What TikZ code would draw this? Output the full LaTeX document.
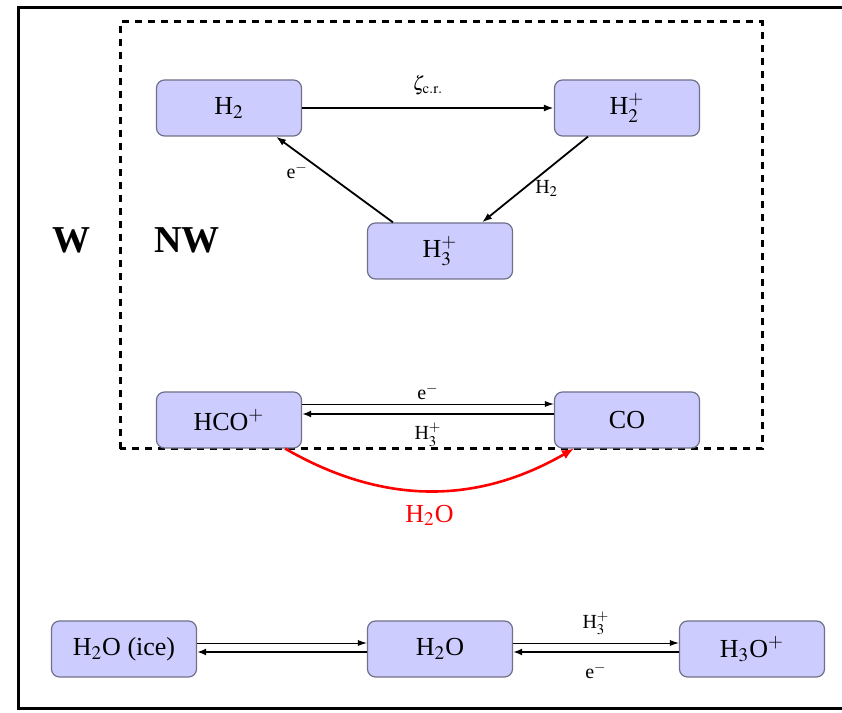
\documentclass[tikz,border=0pt]{standalone}
\usepackage{mathptmx}
\usepackage{fontspec}
\setmainfont{Liberation Serif}
\usetikzlibrary{arrows.meta, positioning}
\definecolor{boxfill}{HTML}{CCCCFF}
\definecolor{boxedge}{HTML}{70708A}
\tikzset{
  species/.style={draw=boxedge, fill=boxfill, rounded corners=4pt, line width=0.6pt,
    minimum width=72.5pt, minimum height=28pt, inner sep=0pt,
    font=\fontsize{13}{15}\selectfont},
  react/.style={-{Latex[length=5pt,width=3.5pt]}, line width=0.9pt},
  fwd/.style={-{Latex[length=4.5pt,width=3pt]}, line width=0.45pt},
  bwd/.style={-{Latex[length=4.5pt,width=3.5pt]}, line width=1.1pt},
  lbl/.style={font=\fontsize{10}{12}\selectfont, inner sep=2pt},
  region/.style={font=\bfseries\fontsize{19}{21}\selectfont},
}

\begin{document}
\begin{tikzpicture}[x=0.5pt, y=0.5pt]
  \useasboundingbox (0,0) rectangle (842,713);
  % outer frame (open to the right) and the dashed inner region
  \draw[line width=1.5pt] (842,705) -- (18,705) -- (18,4) -- (842,4);
  \draw[line width=1.5pt, dash pattern=on 3.5pt off 3pt] (120,264) rectangle (762,691);
  \node[region] (w) at (72,473) {W};
  \node[region] (nw) at (187,473) {NW};

  % species
  \node[species] (h2) at (229,605) {H$_2$};
  \node[species] (h2p) at (627,605) {H$_2^+$};
  \node[species] (h3p) at (440,462) {H$_3^+$};
  \node[species] (hco) at (229,293) {HCO$^+$};
  \node[species] (co) at (627,293) {CO};
  \node[species] (ice) at (124,64) {H$_2$O (ice)};
  \node[species] (h2o) at (440,64) {H$_2$O};
  \node[species] (h3o) at (752,64) {H$_3$O$^+$};

  % cosmic-ray cycle
  \draw[react, line width=1.2pt] (h2) -- node[lbl, above=4pt] {$\zeta_{\rm c.r.}$} (h2p);
  \draw[react] ([xshift=-19.5pt]h2p.south) -- node[lbl, right=3pt, pos=0.6] {H$_2$} ([xshift=21pt]h3p.north);
  \draw[react] ([xshift=-23.5pt]h3p.north) -- node[lbl, left=5pt, pos=0.6] {e$^-$} ([xshift=23.5pt]h2.south);

  % HCO+ <-> CO
  \draw[fwd] ([yshift=8pt]hco.east) -- node[lbl, above] {e$^-$} ([yshift=8pt]co.west);
  \draw[bwd] ([yshift=3pt]co.west) -- node[lbl, below=2pt] {H$_3^+$} ([yshift=3pt]hco.east);
  \draw[red, line width=1.3pt, -{Latex[length=6pt,width=5pt]}]
    ([xshift=-8.5pt]hco.south east) to[bend right=30]
    node[below=3pt, font=\fontsize{13}{15}\selectfont] {H$_2$O} ([xshift=10pt]co.south west);

  % water chain
  \draw[fwd] ([yshift=3pt]ice.east) -- ([yshift=3pt]h2o.west);
  \draw[bwd] ([yshift=-1.5pt]h2o.west) -- ([yshift=-1.5pt]ice.east);
  \draw[fwd] ([yshift=3pt]h2o.east) -- node[lbl, above=2pt] {H$_3^+$} ([yshift=3pt]h3o.west);
  \draw[bwd] ([yshift=-1.5pt]h3o.west) -- node[lbl, below=3pt] {e$^-$} ([yshift=-1.5pt]h2o.east);
\end{tikzpicture}
\end{document}
